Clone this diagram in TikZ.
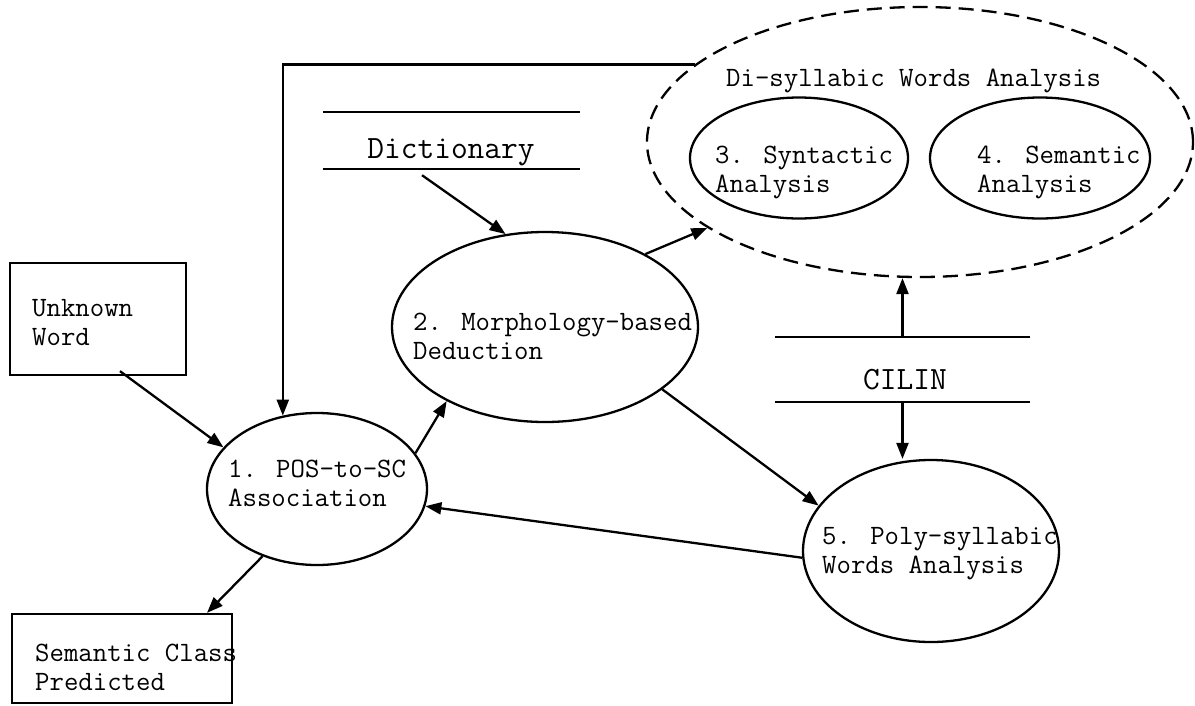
\documentclass[tikz,border=0pt]{standalone}
\usepackage{fontspec}
\usetikzlibrary{arrows.meta,shapes.geometric}
\newcommand\lab{\ttfamily\fontsize{28}{29}\selectfont}
\newcommand\biglab{\ttfamily\fontsize{32.5}{36}\selectfont}
\tikzset{
  lw/.style={line width=2.3pt},
  box/.style={draw, lw, rectangle, inner sep=0pt},
  oval/.style={draw, lw, ellipse, inner sep=0pt},
  lbl/.style={font=\lab, align=left, anchor=base west, inner sep=0pt},
  arr/.style={lw, -{Triangle[length=16pt,width=12pt]}},
  bare/.style={inner sep=0pt},
}
\begin{document}
\begin{tikzpicture}[x=1pt,y=-1pt]
\useasboundingbox (0,0) rectangle (1195,705);
% boxes (label anchors give the baseline of the last line)
\node[box, minimum width=176pt, minimum height=112pt] (uw) at (98,319) {};
\node[lbl] (uwt) at (32,345) {Unknown\\Word};
\node[box, minimum width=220pt, minimum height=89pt] (sc) at (122,658.5) {};
\node[lbl] (sct) at (35,690) {Semantic Class\\Predicted};
% ellipses
\node[oval, minimum width=220pt, minimum height=152pt] (e1) at (317,489) {};
\node[lbl] (e1t) at (228,506) {1. POS-to-SC\\Association};
\node[oval, minimum width=306pt, minimum height=190pt] (e2) at (545,327) {};
\node[lbl] (e2t) at (413,359) {2. Morphology-based\\Deduction};
\node[oval, dash pattern=on 15pt off 8pt, minimum width=546pt, minimum height=270pt] (di) at (920,142) {};
\node[lbl] (dit) at (726,86) {Di-syllabic Words Analysis};
\node[oval, minimum width=218pt, minimum height=121pt] (e3) at (799,158) {};
\node[lbl] (e3t) at (715,192) {3. Syntactic\\Analysis};
\node[oval, minimum width=220pt, minimum height=121pt] (e4) at (1040,158) {};
\node[lbl] (e4t) at (977,192) {4. Semantic\\Analysis};
\node[oval, minimum width=256pt, minimum height=182pt] (e5) at (931,551) {};
\node[lbl] (e5t) at (822,573) {5. Poly-syllabic\\Words Analysis};
% data stores
\node[bare, minimum width=257pt, minimum height=57pt] (dict) at (451.5,140.5) {};
\node[bare, font=\biglab, anchor=base] (dictt) at (451,158) {Dictionary};
\draw[lw] (dict.north west) -- (dict.north east) (dict.south west) -- (dict.south east);
\node[bare, minimum width=255pt, minimum height=65pt] (cilin) at (902.5,369.5) {};
\node[bare, font=\biglab, anchor=base] (cilint) at (905,389) {CILIN};
\draw[lw] (cilin.north west) -- (cilin.north east) (cilin.south west) -- (cilin.south east);
% connectors
\draw[arr] ([xshift=22pt,yshift=5pt]uw.south) -- (e1.156);
\draw[arr] (di.161) -| (e1.115);
\draw[arr] ([xshift=-29.5pt,yshift=-6pt]dict.south) -- (e2.113);
\draw[arr] (e1.20) -- (e2.217);
\draw[arr] (e2.36) -- (di.202);
\draw[arr] (e2.332) -- (e5.158);
\draw[arr] (e5.183) -- (e1.351);
\draw[arr] (cilin.north) -- (cilin.north |- di.south);
\draw[arr] (cilin.south) -- (cilin.south |- e5.north);
\draw[arr] (e1.231) -- ([xshift=85pt]sc.north);
\end{tikzpicture}
\end{document}
